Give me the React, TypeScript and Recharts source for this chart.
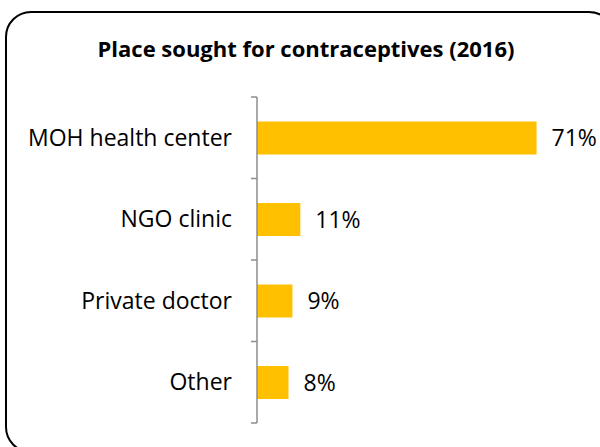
import { BarChart, Bar, XAxis, YAxis, LabelList } from 'recharts';

const categories = ['MOH health center', 'NGO clinic', 'Private doctor', 'Other'];
const shares = [71, 11, 9, 8];
const title = 'Place sought for contraceptives (2016)';

const data = categories.map((name, i) => ({ name, value: shares[i] }));

const FONT = '"Open Sans", "Noto Sans", sans-serif';
const PLOT_TOP = 97;
const PLOT_BOTTOM = 24;
const CHART_H = 447;
const band = (CHART_H - PLOT_TOP - PLOT_BOTTOM) / categories.length;

const CategoryTick = (props: any) => {
  const { x, y, payload, index } = props;
  const axisX = x + 25;
  const half = band / 2;
  return (
    <g>
      <text x={x} y={y} dy={8} textAnchor="end" fontSize={23} fontFamily={FONT} fill="#000">
        {payload.value}
      </text>
      <line x1={axisX - 6} x2={axisX} y1={y - half} y2={y - half} stroke="#8c8c8c" strokeWidth={1.5} />
      {index === categories.length - 1 && (
        <line x1={axisX - 6} x2={axisX} y1={y + half} y2={y + half} stroke="#8c8c8c" strokeWidth={1.5} />
      )}
    </g>
  );
};

export default function App() {
  return (
    <div style={{ position: 'absolute', left: 0, top: 0, width: 600, height: 447, overflow: 'hidden', background: '#fff' }}>
      <div
        style={{
          position: 'absolute',
          left: 5,
          top: 11,
          width: 610,
          height: 442,
          border: '2px solid #000',
          borderRadius: 26,
          boxSizing: 'border-box',
        }}
      />
      <div
        style={{
          position: 'absolute',
          left: 0,
          top: 33,
          width: 612,
          textAlign: 'center',
          fontFamily: FONT,
          fontWeight: 700,
          fontSize: 22,
          lineHeight: '30px',
        }}
      >
        {title}
      </div>
      <div style={{ position: 'absolute', left: 0, top: 0 }}>
        <BarChart
          width={600}
          height={CHART_H}
          data={data}
          layout="vertical"
          margin={{ top: PLOT_TOP, right: 28, bottom: PLOT_BOTTOM, left: 0 }}
          barCategoryGap="30%"
        >
          <XAxis type="number" domain={[0, 80]} hide />
          <YAxis
            type="category"
            dataKey="name"
            width={257}
            axisLine={{ stroke: '#8c8c8c', strokeWidth: 1.5 }}
            tickLine={false}
            tickSize={6}
            tickMargin={19}
            tick={<CategoryTick />}
            interval={0}
          />
          <Bar dataKey="value" fill="#FFC000" isAnimationActive={false}>
            <LabelList
              dataKey="value"
              position="right"
              offset={15}
              formatter={(v: any) => `${v}%`}
              fontSize={23}
              fontFamily={FONT}
              fill="#000"
            />
          </Bar>
        </BarChart>
      </div>
    </div>
  );
}
